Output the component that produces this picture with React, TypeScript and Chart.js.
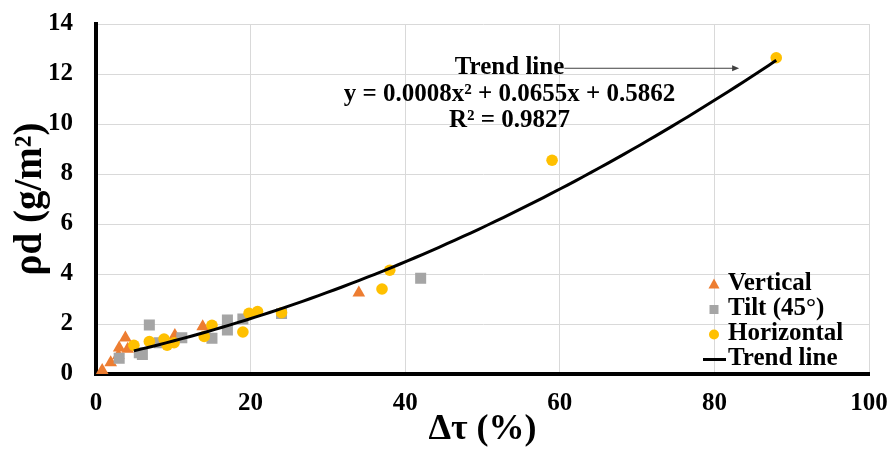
import React, { useEffect, useRef } from 'react';
import { Chart, registerables } from 'chart.js';

Chart.register(...registerables);

// Δτ (%) and ρd (g/m²) measurements per panel orientation
const verticalX = [0.8, 1.9, 2.9, 3.0, 3.8, 4.1, 10.2, 13.8, 34.0];
const verticalY = [0.15, 0.46, 0.75, 1.05, 1.45, 1.0, 1.55, 1.9, 3.25];

const tiltX = [3.0, 5.6, 6.0, 6.9, 8.2, 11.1, 15.0, 17.0, 17.0, 19.0, 24.0, 42.0];
const tiltY = [0.63, 0.85, 0.78, 1.96, 1.25, 1.45, 1.43, 2.16, 1.76, 2.2, 2.42, 3.83];

const horizontalX = [4.9, 6.9, 8.8, 9.2, 10.1, 14.0, 15.0, 19.0, 19.8, 20.9, 24.0, 37.0, 38.0, 59.0, 88.0];
const horizontalY = [1.15, 1.3, 1.4, 1.15, 1.25, 1.5, 1.95, 1.68, 2.43, 2.5, 2.45, 3.4, 4.15, 8.55, 12.65];

// Polynomial trend line (order 2) as reported on the chart
const trendA = 0.0008;
const trendB = 0.0655;
const trendC = 0.5862;
const trendR2 = 0.9827;
const trendXStart = 4.9;
const trendXEnd = 88;
const trendSamples = 80;

const xTicks = [0, 20, 40, 60, 80, 100];
const yTicks = [0, 2, 4, 6, 8, 10, 12, 14];

const seriesLabels = ['Vertical', 'Tilt (45°)', 'Horizontal', 'Trend line'];
const xTitle = 'Δτ (%)';
const yTitle = 'ρd (g/m²)';
const arrowLabel = 'Trend line';
const equationText = `y = ${trendA.toFixed(4)}x² + ${trendB.toFixed(4)}x + ${trendC.toFixed(4)}`;
const r2Text = `R² = ${trendR2.toFixed(4)}`;

const ORANGE = '#ED7D31';
const GRAY = '#A5A5A5';
const YELLOW = '#FFC000';
const FONT = "'Liberation Serif', 'Times New Roman', serif";

const toPoints = (xs: number[], ys: number[]) => xs.map((x, i) => ({ x, y: ys[i] }));

const trendPoints = () => {
  const pts: { x: number; y: number }[] = [];
  for (let i = 0; i <= trendSamples; i++) {
    const x = trendXStart + ((trendXEnd - trendXStart) * i) / trendSamples;
    pts.push({ x, y: trendA * x * x + trendB * x + trendC });
  }
  return pts;
};

function drawMarker(ctx: CanvasRenderingContext2D, kind: string, x: number, y: number, color: string) {
  ctx.save();
  ctx.fillStyle = color;
  ctx.strokeStyle = color;
  ctx.beginPath();
  if (kind === 'triangle') {
    ctx.moveTo(x, y - 6);
    ctx.lineTo(x + 5.5, y + 4);
    ctx.lineTo(x - 5.5, y + 4);
    ctx.closePath();
    ctx.fill();
  } else if (kind === 'rect') {
    ctx.rect(x - 4.5, y - 4.5, 9, 9);
    ctx.fill();
  } else if (kind === 'circle') {
    ctx.arc(x, y, 5, 0, Math.PI * 2);
    ctx.fill();
  } else {
    ctx.lineWidth = 3;
    ctx.moveTo(x - 11, y);
    ctx.lineTo(x + 12, y);
    ctx.stroke();
  }
  ctx.restore();
}

// Draws the in-plot legend and the trend-line annotation
const overlayPlugin = {
  id: 'overlay',
  afterDraw(chart: any) {
    const { ctx, chartArea, scales } = chart;
    const xs = scales.x;
    const ys = scales.y;

    ctx.save();
    ctx.fillStyle = '#000';
    ctx.textBaseline = 'middle';
    ctx.font = `bold 25px ${FONT}`;

    // Annotation: label with arrow, equation, R²
    const cx = xs.getPixelForValue(53.5);
    ctx.textAlign = 'center';
    const labelY = ys.getPixelForValue(12.25);
    ctx.fillText(arrowLabel, cx, labelY);
    ctx.fillText(equationText, cx, ys.getPixelForValue(11.18));
    ctx.fillText(r2Text, cx, ys.getPixelForValue(10.12));

    const labelW = ctx.measureText(arrowLabel).width;
    const ax0 = cx + labelW / 2;
    const ax1 = xs.getPixelForValue(83.2);
    const ay = labelY + 0.5;
    ctx.strokeStyle = '#404040';
    ctx.fillStyle = '#404040';
    ctx.lineWidth = 1;
    ctx.beginPath();
    ctx.moveTo(ax0, ay);
    ctx.lineTo(ax1 - 6, ay);
    ctx.stroke();
    ctx.beginPath();
    ctx.moveTo(ax1, ay);
    ctx.lineTo(ax1 - 7, ay - 3);
    ctx.lineTo(ax1 - 7, ay + 3);
    ctx.closePath();
    ctx.fill();

    // Legend in the lower-right corner of the plot area
    const kinds = ['triangle', 'rect', 'circle', 'line'];
    const colors = [ORANGE, GRAY, YELLOW, '#000'];
    const textX = chartArea.right - 141;
    const markerX = textX - 14;
    const rowH = 25;
    const lastRowY = chartArea.bottom - 15.5;
    ctx.textAlign = 'left';
    ctx.fillStyle = '#000';
    seriesLabels.forEach((label, i) => {
      const y = lastRowY - (seriesLabels.length - 1 - i) * rowH;
      drawMarker(ctx, kinds[i], markerX, y + 1, colors[i]);
      ctx.fillStyle = '#000';
      ctx.fillText(label, textX, y);
    });
    ctx.restore();
  },
};

export default function App() {
  const canvasRef = useRef<HTMLCanvasElement | null>(null);

  useEffect(() => {
    document.body.style.margin = '0';
    const canvas = canvasRef.current;
    if (!canvas) return;

    const tickFont = { family: FONT, size: 25, weight: 'bold' as const, lineHeight: 1 };
    const xTitleFont = { family: FONT, size: 36, weight: 'bold' as const, lineHeight: 1 };
    const yTitleFont = { family: FONT, size: 39, weight: 'bold' as const, lineHeight: 1 };

    const chart = new Chart(canvas, {
      type: 'scatter',
      data: {
        datasets: [
          {
            label: seriesLabels[3],
            data: trendPoints(),
            showLine: true,
            borderColor: '#000',
            borderWidth: 3,
            pointRadius: 0,
            tension: 0,
            fill: false,
            order: 0,
          },
          {
            label: seriesLabels[2],
            data: toPoints(horizontalX, horizontalY),
            pointStyle: 'circle',
            pointRadius: 5.8,
            backgroundColor: YELLOW,
            borderWidth: 0,
            order: 1,
          },
          {
            label: seriesLabels[1],
            data: toPoints(tiltX, tiltY),
            pointStyle: 'rect',
            pointRadius: 7.8,
            backgroundColor: GRAY,
            borderWidth: 0,
            order: 2,
          },
          {
            label: seriesLabels[0],
            data: toPoints(verticalX, verticalY),
            pointStyle: 'triangle',
            pointRadius: 7.3,
            backgroundColor: ORANGE,
            borderWidth: 0,
            order: 3,
          },
        ],
      },
      options: {
        responsive: false,
        animation: false,
        events: [],
        layout: { padding: { top: 24, right: 23, left: 0, bottom: 0 } },
        plugins: { legend: { display: false }, tooltip: { enabled: false } },
        scales: {
          x: {
            type: 'linear',
            min: xTicks[0],
            max: xTicks[xTicks.length - 1],
            afterBuildTicks: (s: any) => {
              s.ticks = xTicks.map((value) => ({ value }));
            },
            afterFit: (s: any) => {
              s.height = 81;
              s.paddingLeft = 0;
              s.paddingRight = 0;
            },
            ticks: { font: tickFont, color: '#000', padding: 17, maxRotation: 0 },
            grid: { color: '#d9d9d9', lineWidth: 1, drawTicks: false },
            border: { color: '#000', width: 4 },
            title: { display: true, text: xTitle, font: xTitleFont, color: '#000', padding: { top: 0, bottom: 7 } },
          },
          y: {
            type: 'linear',
            min: yTicks[0],
            max: yTicks[yTicks.length - 1],
            afterBuildTicks: (s: any) => {
              s.ticks = yTicks.map((value) => ({ value }));
            },
            afterFit: (s: any) => {
              s.width = 96;
              s.paddingTop = 0;
              s.paddingBottom = 0;
            },
            ticks: { font: tickFont, color: '#000', padding: 23 },
            grid: { color: '#d9d9d9', lineWidth: 1, drawTicks: false },
            border: { color: '#000', width: 4 },
            title: { display: true, text: yTitle, font: yTitleFont, color: '#000', padding: { top: 11, bottom: 0 } },
          },
        },
      },
      plugins: [overlayPlugin],
    });

    return () => chart.destroy();
  }, []);

  return (
    <div style={{ width: 892, height: 455, background: '#fff' }}>
      <canvas ref={canvasRef} width={892} height={455} style={{ display: 'block' }} />
    </div>
  );
}
